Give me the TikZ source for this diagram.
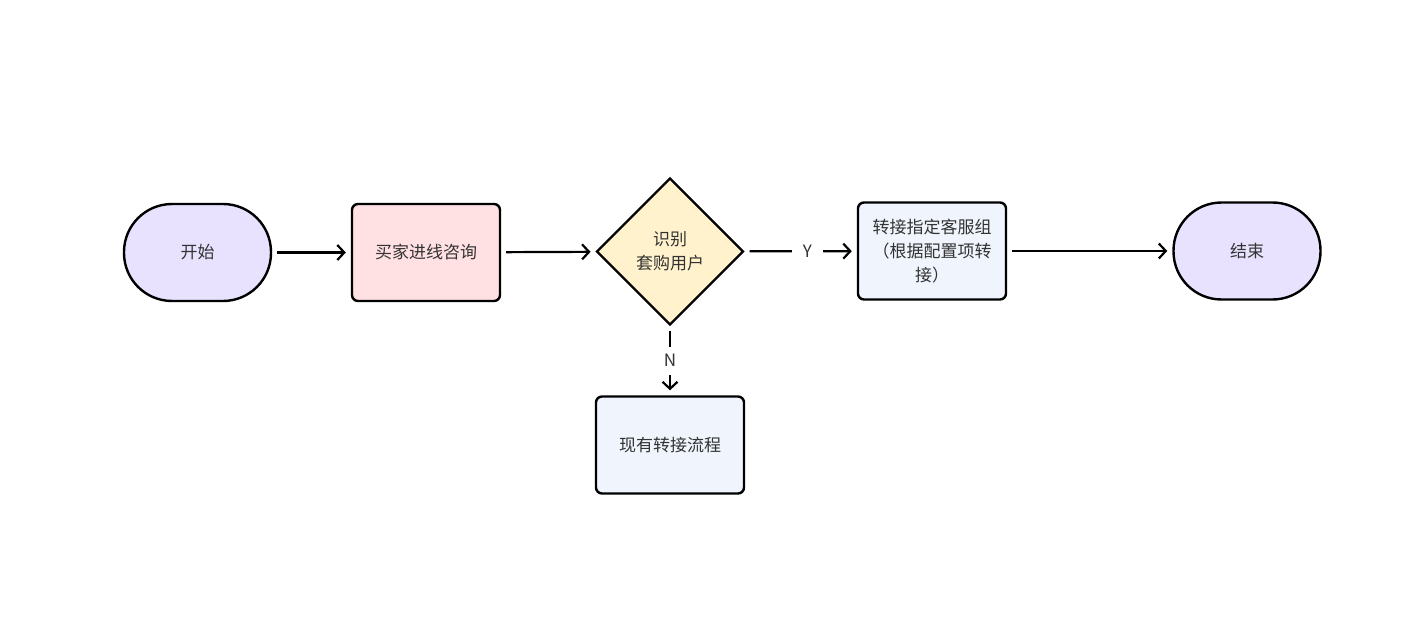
\documentclass[tikz,border=0pt]{standalone}
\usepackage{fontspec}
\setmainfont{Noto Sans CJK SC}
\usetikzlibrary{shapes.geometric,arrows.meta,positioning}

\definecolor{termfill}{RGB}{232,226,255}
\definecolor{askfill}{RGB}{255,224,227}
\definecolor{checkfill}{RGB}{255,242,204}
\definecolor{stepfill}{RGB}{239,244,253}
\definecolor{txt}{RGB}{51,51,51}

\tikzset{
  terminal/.style={shape=rectangle, draw=black, line width=2.4pt, fill=termfill,
    rounded corners=48pt, minimum width=147pt, minimum height=97pt, text=txt},
  process/.style={shape=rectangle, draw=black, line width=2.4pt,
    rounded corners=6pt, minimum width=148pt, minimum height=97pt, text=txt, align=center},
  decision/.style={shape=diamond, draw=black, line width=2.4pt, fill=checkfill,
    minimum width=147pt, minimum height=147pt, inner sep=0pt, text=txt, align=center},
  flow/.style={-{Straight Barb[length=7pt,width=15pt]}, line width=2.2pt,
    shorten <=5pt, shorten >=5pt},
  branch/.style={fill=white, text=txt, inner xsep=11pt, inner ysep=8pt}
}

\begin{document}
\begin{tikzpicture}[x=1pt,y=-1pt,font=\fontsize{17pt}{24pt}\selectfont]
\useasboundingbox (0,0) rectangle (1424,639);

%start and end
\node [terminal] at (197.5,252.5) (start) {开始};
\node [terminal] at (1247,251) (finish) {结束};

%boxes
\node [process, fill=askfill] at (426,252.5) (ask) {买家进线咨询};
\node [decision] at (670,251.5) (check) {识别\\套购用户};
\node [process, fill=stepfill] at (932,251) (group) {转接指定客服组\\（根据配置项转\\接）};
\node [process, fill=stepfill] at (670,445) (normal) {现有转接流程};

%connectors
\draw [flow] (start) -- (ask);
\draw [flow] (ask) -- (check);
\draw [flow] (check) -- node [branch, pos=0.56] {Y} (group);
\draw [flow] (check) -- node [branch, pos=0.5] {N} (normal);
\draw [flow] (group.east |- finish) -- (finish);

\end{tikzpicture}
\end{document}
